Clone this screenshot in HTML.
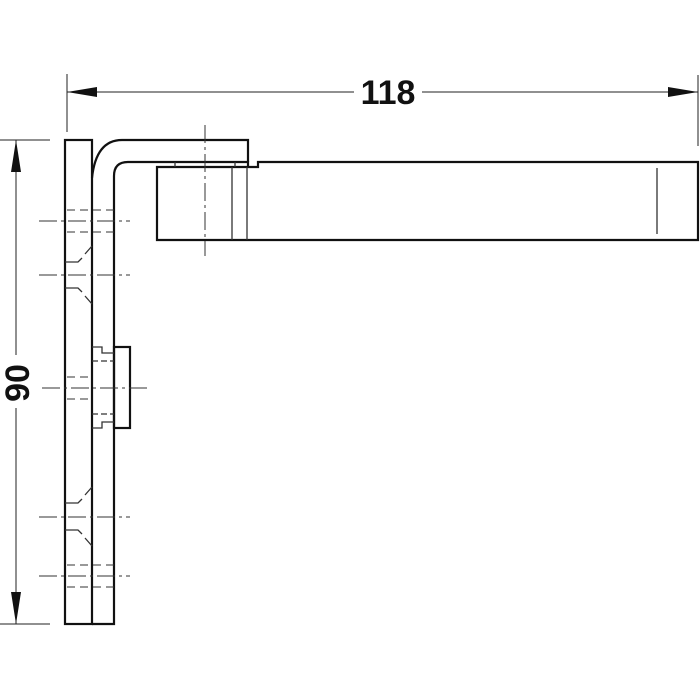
<!DOCTYPE html>
<html><head><style>html,body{margin:0;padding:0;background:#fff;}svg{display:block}</style></head>
<body>
<svg width="700" height="700" viewBox="0 0 700 700" xmlns="http://www.w3.org/2000/svg">
<g fill="none" stroke="#222" stroke-width="1">
<line x1="67" y1="74" x2="67" y2="132"/>
<line x1="698" y1="75" x2="698" y2="146"/>
<line x1="67" y1="92" x2="354" y2="92"/>
<line x1="422" y1="92" x2="698" y2="92"/>
<line x1="0" y1="140" x2="50" y2="140"/>
<line x1="0" y1="624" x2="50" y2="624"/>
<line x1="16" y1="140" x2="16" y2="355"/>
<line x1="16" y1="408" x2="16" y2="624"/>
</g>
<g fill="#111">
<polygon points="67,92 97,87 97,97"/>
<polygon points="698,92 668,87 668,97"/>
<polygon points="16,140 11,172 21,172"/>
<polygon points="16,624 11,592 21,592"/>
</g>
<text x="388" y="104" font-family="Liberation Sans, sans-serif" font-weight="bold" font-size="34" text-anchor="middle" fill="#111">118</text>
<text transform="translate(29,383) rotate(-90)" font-family="Liberation Sans, sans-serif" font-weight="bold" font-size="34" text-anchor="middle" fill="#111">90</text>
<g fill="none" stroke="#111" stroke-width="2.2">
<rect x="65" y="140" width="27" height="484"/>
<path d="M92 178 Q96 140 122 140 H248 V162"/>
<path d="M92 624 H114 V176 Q114 162 128 162 H248 V167 H258 V162 H698 V240 H157 V167 H258"/>
<rect x="114" y="347" width="16" height="81"/>
</g>
<g fill="none" stroke="#333" stroke-width="1.3">
<line x1="175" y1="162" x2="175" y2="167"/>
<line x1="235" y1="162" x2="235" y2="167"/>
<line x1="232" y1="167" x2="232" y2="240"/>
<line x1="247" y1="167" x2="247" y2="240"/>
<line x1="657" y1="168" x2="657" y2="234"/>
<path d="M92 347 H102 V353 H114"/>
<path d="M92 428 H102 V422 H114"/>
<path d="M92 361 H114" stroke-dasharray="6,3"/>
<path d="M92 414 H114" stroke-dasharray="6,3"/>
<path d="M65 262 H78 L82 258 M85 254 L92 246"/>
<path d="M65 288 H78 L82 292 M85 296 L92 304"/>
<path d="M65 503 H78 L82 499 M85 495 L92 487"/>
<path d="M65 530 H78 L82 534 M85 538 L92 546"/>
</g>
<g fill="none" stroke="#333" stroke-width="1" stroke-dasharray="18,4,3,4">
<line x1="39" y1="221" x2="130" y2="221"/>
<line x1="39" y1="275" x2="130" y2="275"/>
<line x1="42" y1="388" x2="150" y2="388"/>
<line x1="39" y1="517" x2="130" y2="517"/>
<line x1="39" y1="576" x2="130" y2="576"/>
<line x1="205" y1="125" x2="205" y2="256"/>
</g>
<g fill="none" stroke="#333" stroke-width="1" stroke-dasharray="8,5">
<line x1="67" y1="210" x2="114" y2="210"/>
<line x1="67" y1="232" x2="114" y2="232"/>
<line x1="67" y1="377" x2="92" y2="377"/>
<line x1="67" y1="399" x2="92" y2="399"/>
<line x1="67" y1="565" x2="114" y2="565"/>
<line x1="67" y1="587" x2="114" y2="587"/>
</g>
</svg>
</body></html>
